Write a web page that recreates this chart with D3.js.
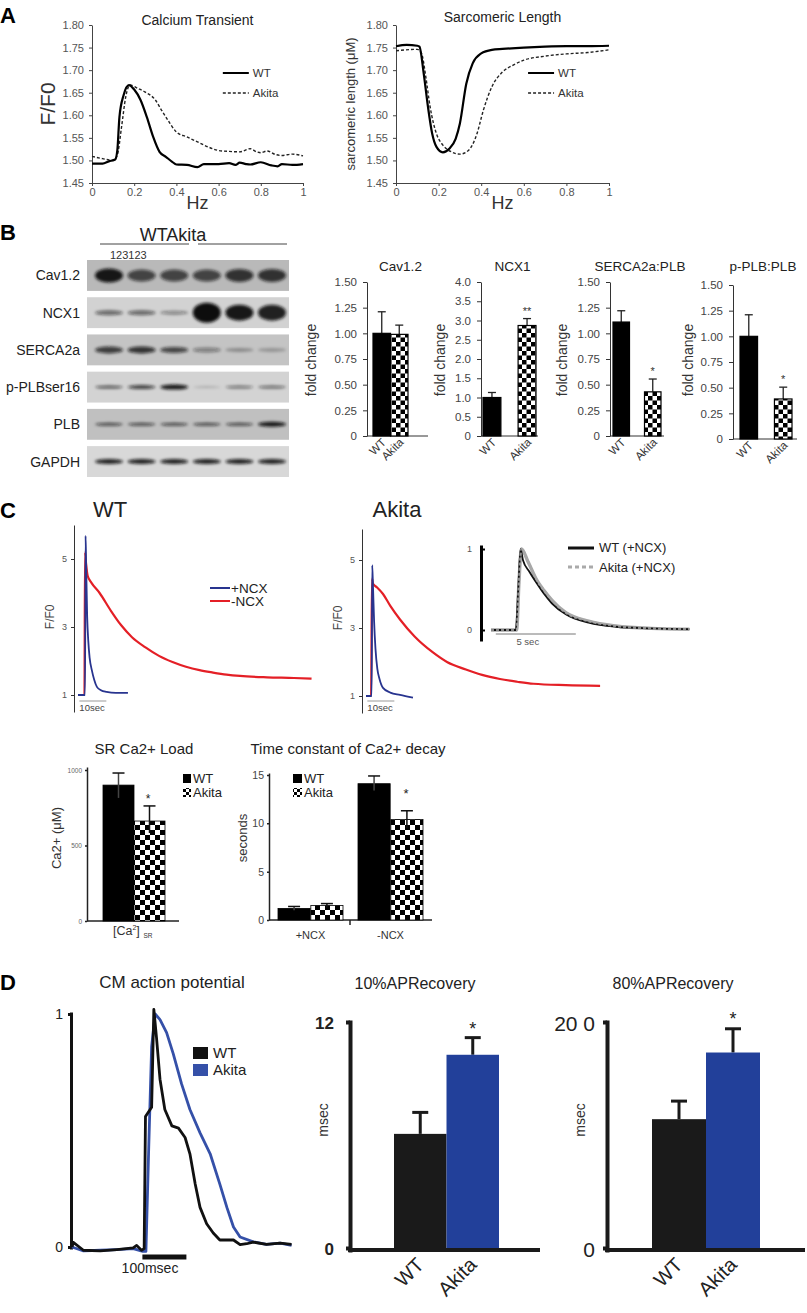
<!DOCTYPE html>
<html><head><meta charset="utf-8">
<script src="https://cdn.jsdelivr.net/npm/d3@7"></script>
<style>
body{margin:0;background:#fff}
svg text{font-family:"Liberation Sans",Arial,Helvetica,sans-serif}
</style>
</head><body>
<svg id="fig" width="807" height="1313"></svg>
<script>
// ================= DATA =================
// Panel A
const hzTicks = [0, 0.2, 0.4, 0.6, 0.8, 1];
const ratioTicks = [1.45, 1.50, 1.55, 1.60, 1.65, 1.70, 1.75, 1.80];
const caWT = [[0,1.493],[0.05,1.493],[0.08,1.498],[0.11,1.502],[0.12,1.522],[0.13,1.596],[0.15,1.645],[0.175,1.667],[0.2,1.657],[0.23,1.634],[0.26,1.596],[0.29,1.552],[0.32,1.519],[0.35,1.508],[0.38,1.497],[0.4,1.491],[0.45,1.490],[0.5,1.485],[0.53,1.492],[0.6,1.492],[0.65,1.494],[0.68,1.490],[0.7,1.495],[0.73,1.492],[0.75,1.491],[0.8,1.496],[0.85,1.489],[0.88,1.487],[0.9,1.492],[0.95,1.490],[1.0,1.492]];
const caAkita = [[0,1.509],[0.05,1.504],[0.1,1.500],[0.12,1.512],[0.14,1.574],[0.16,1.641],[0.18,1.667],[0.22,1.659],[0.25,1.652],[0.3,1.634],[0.33,1.611],[0.36,1.589],[0.4,1.563],[0.45,1.552],[0.5,1.541],[0.55,1.530],[0.6,1.522],[0.65,1.520],[0.7,1.519],[0.75,1.526],[0.78,1.519],[0.8,1.517],[0.83,1.521],[0.87,1.513],[0.9,1.511],[0.95,1.514],[1.0,1.510]];
const slWT = [[0,1.753],[0.05,1.756],[0.1,1.754],[0.11,1.752],[0.13,1.693],[0.15,1.619],[0.17,1.559],[0.19,1.530],[0.22,1.518],[0.25,1.526],[0.28,1.548],[0.3,1.582],[0.33,1.670],[0.36,1.715],[0.4,1.737],[0.45,1.745],[0.5,1.747],[0.6,1.750],[0.7,1.752],[0.8,1.753],[0.9,1.753],[1.0,1.754]];
const slAkita = [[0,1.743],[0.1,1.746],[0.12,1.737],[0.14,1.685],[0.16,1.619],[0.19,1.559],[0.22,1.534],[0.26,1.519],[0.3,1.514],[0.34,1.522],[0.38,1.559],[0.41,1.611],[0.45,1.663],[0.5,1.696],[0.55,1.711],[0.6,1.722],[0.7,1.731],[0.8,1.736],[0.9,1.739],[1.0,1.745]];

// Panel B – western blot
const blotRows = ["Cav1.2", "NCX1", "SERCA2a", "p-PLBser16", "PLB", "GAPDH"];
const blotLanes = [1, 2, 3, 4, 5, 6];
const blotIntensity = [
  [0.95, 0.70, 0.70, 0.70, 0.80, 0.80],
  [0.55, 0.55, 0.40, 1.00, 0.95, 0.90],
  [0.75, 0.80, 0.70, 0.40, 0.30, 0.25],
  [0.65, 0.75, 0.95, 0.20, 0.50, 0.55],
  [0.70, 0.70, 0.70, 0.70, 0.70, 0.95],
  [0.90, 0.90, 0.90, 0.90, 0.90, 0.90]];
const blotThickness = [
  [14, 12, 12, 12, 13, 13],
  [5, 5, 4, 20, 16, 16],
  [7, 7, 6, 5, 4, 4],
  [3, 4, 5, 2, 3, 3],
  [3, 3, 3, 3, 3, 5],
  [5, 5, 5, 5, 5, 5]];
const blotBackground = ["#b9b9b9", "#d2d2d2", "#c4c4c4", "#d3d3d3", "#c0c0c0", "#d8d8d8"];

// Panel B – quantification
const groups = ["WT", "Akita"];
const bTitles = ["Cav1.2", "NCX1", "SERCA2a:PLB", "p-PLB:PLB"];
const bWT = [1.00, 1.00, 1.11, 1.00];
const bWTerr = [0.21, 0.13, 0.11, 0.21];
const bAkita = [0.99, 2.87, 0.43, 0.39];
const bAkitaErr = [0.09, 0.18, 0.125, 0.115];
const bYMax = [1.5, 4.0, 1.5, 1.5];
const bSig = ["", "**", "*", "*"];
const ticks150 = [0, 0.25, 0.5, 0.75, 1.0, 1.25, 1.5];
const ticks40 = [0, 0.5, 1.0, 1.5, 2.0, 2.5, 3.0, 3.5, 4.0];

// Panel C – traces (time s, F/F0)
const wtPlusNCX = [[0,1.0],[2.6,1.0],[2.8,5.68],[3.0,4.9],[3.4,3.3],[3.8,2.6],[4.3,2.1],[5.1,1.74],[6,1.45],[7,1.24],[8.5,1.14],[10.6,1.09],[14,1.06],[18.5,1.06]];
const wtMinusNCX = [[0,1.0],[2.4,1.0],[2.6,5.2],[3.0,4.85],[3.6,4.5],[5,4.3],[8,4.0],[12,3.5],[16,3.05],[20,2.7],[25,2.4],[30,2.15],[35,1.97],[40,1.83],[45,1.73],[50,1.66],[55,1.6],[60,1.56],[70,1.52],[80,1.5],[86.5,1.48]];
const akPlusNCX = [[0,1.0],[2.1,1.0],[2.3,4.85],[2.6,4.2],[3.0,3.2],[3.5,2.4],[4.2,1.8],[5,1.5],[6.3,1.24],[9,1.1],[12.6,1.03],[17.4,0.95]];
const akMinusNCX = [[0,1.0],[1.9,1.0],[2.2,4.45],[2.6,4.3],[4,4.2],[6.3,4.0],[9,3.65],[12.6,3.25],[18,2.75],[24.8,2.28],[30,2.0],[37,1.78],[43,1.62],[49.6,1.5],[56,1.42],[62,1.36],[74,1.32],[86.7,1.3]];
const fTicks = [1, 3, 5];
// inset (normalised)
const insetWT = [[0,0],[1.55,0],[1.7,0.5],[1.85,1.0],[2.0,0.86],[2.4,0.72],[2.85,0.58],[3.3,0.45],[3.8,0.33],[4.7,0.19],[6.1,0.09],[7.8,0.04],[10,0.02],[12.4,0.01]];
const insetAkita = [[0,0],[1.6,0],[1.75,0.6],[1.9,1.0],[2.3,0.85],[2.85,0.62],[3.3,0.49],[3.8,0.37],[4.7,0.21],[6.1,0.11],[7.8,0.05],[10,0.02],[12.4,0.01]];

// Panel C – bars
const srLoad = [900, 662];
const srLoadHi = [980, 762];
const srLoadLo = [815, 583];
const srTicks = [0, 500, 1000];
const ncxConds = ["+NCX", "-NCX"];
const tauWT = [1.2, 14.1];
const tauWTHi = [1.4, 14.9];
const tauWTLo = [1.0, 13.4];
const tauAkita = [1.5, 10.4];
const tauAkitaHi = [1.7, 11.3];
const tauAkitaLo = [1.3, 9.5];
const tauTicks = [0, 5, 10, 15];

// Panel D – action potential (ms, normalised)
const apWT = [[0,0.0],[3,0.02],[26,-0.014],[64,-0.017],[102,-0.011],[139,-0.004],[147,0.007],[158,-0.014],[164,-0.007],[167,0.56],[181,0.60],[186,1.02],[192,0.90],[200,0.72],[211,0.59],[227,0.52],[242,0.51],[257,0.47],[268,0.40],[280,0.27],[291,0.17],[306,0.10],[321,0.06],[336,0.03],[352,0.03],[367,0.03],[382,0.01],[397,0.014],[412,0.021],[442,0.011],[473,0.017],[499,0.011]];
const apAkita = [[0,0.0],[26,-0.017],[64,-0.014],[102,-0.011],[139,-0.007],[161,-0.019],[168,-0.019],[174,0.40],[181,0.86],[189,1.0],[200,0.976],[215,0.92],[230,0.83],[249,0.70],[268,0.59],[291,0.49],[314,0.40],[336,0.27],[352,0.17],[367,0.086],[382,0.043],[412,0.022],[442,0.011],[473,0.017],[499,0.007]];
const ap10 = [6.06, 10.26];
const ap10err = [1.14, 0.91];
const ap80 = [114, 173];
const ap80err = [16, 21];

// ================= DRAWING =================
const svg = d3.select("#fig");
const defs = svg.append("defs");
function checker(id, c) {
  const p = defs.append("pattern").attr("id", id).attr("patternUnits", "userSpaceOnUse")
    .attr("width", 2 * c).attr("height", 2 * c);
  p.append("rect").attr("width", 2 * c).attr("height", 2 * c).attr("fill", "#fff");
  p.append("rect").attr("width", c).attr("height", c).attr("fill", "#000");
  p.append("rect").attr("x", c).attr("y", c).attr("width", c).attr("height", c).attr("fill", "#000");
}
checker("chkB", 4.5);
checker("chkC", 5);
checker("chkL", 3);
defs.append("filter").attr("id", "blur").attr("x", "-50%").attr("y", "-100%").attr("width", "200%").attr("height", "300%")
  .append("feGaussianBlur").attr("stdDeviation", 1.6);

function label(x, y, s, size, o = {}) {
  const t = svg.append("text").attr("x", x).attr("y", y).attr("font-size", size)
    .attr("text-anchor", o.anchor || "middle").attr("fill", o.fill || "#1a1a1a")
    .attr("font-weight", o.weight || "normal").text(s);
  if (o.rotate !== undefined) t.attr("transform", `rotate(${o.rotate},${x},${y})`);
  return t;
}
function styleAxis(g, o = {}) {
  g.selectAll("path,line").attr("stroke", o.stroke || "#333").attr("stroke-width", o.sw || 1);
  g.selectAll("text").attr("font-size", o.fs || 11).attr("fill", o.fill || "#444")
    .attr("font-weight", o.weight || "normal")
    .attr("font-family", '"Liberation Sans",Arial,sans-serif');
}
const fmtTick = d => (d === 0 || d === 1) ? String(d) : d.toFixed(1);
const fmtInt = d3.format("d");

// panel letters
label(0, 23, "A", 22, {anchor: "start", weight: "bold", fill: "#000"});
label(0, 240, "B", 22, {anchor: "start", weight: "bold", fill: "#000"});
label(0, 518, "C", 22, {anchor: "start", weight: "bold", fill: "#000"});
label(0, 990, "D", 22, {anchor: "start", weight: "bold", fill: "#000"});

// ---------- Panel A ----------
function panelA(x0, x1, title, titleY, ylab, ylabSize, ylabX, wt, ak) {
  const x = d3.scaleLinear([0, 1], [x0, x1]);
  const y = d3.scaleLinear([1.45, 1.80], [183, 25]);
  const gy = svg.append("g").attr("transform", `translate(${x0},0)`)
    .call(d3.axisLeft(y).tickValues(ratioTicks).tickFormat(d3.format(".2f")).tickSize(3).tickSizeOuter(0).tickPadding(5));
  styleAxis(gy, {fs: 11, fill: "#555", stroke: "#444"});
  const gx = svg.append("g").attr("transform", `translate(0,183)`)
    .call(d3.axisBottom(x).tickValues(hzTicks).tickFormat(fmtTick).tickSize(3).tickSizeOuter(0).tickPadding(2));
  styleAxis(gx, {fs: 11, fill: "#555", stroke: "#444"});
  const line = d3.line().x(d => x(d[0])).y(d => y(d[1])).curve(d3.curveMonotoneX);
  svg.append("path").datum(ak).attr("d", line).attr("fill", "none").attr("stroke", "#222")
    .attr("stroke-width", 1.4).attr("stroke-dasharray", "3,2");
  svg.append("path").datum(wt).attr("d", line).attr("fill", "none").attr("stroke", "#000").attr("stroke-width", 2.2);
  label((x0 + x1) / 2, titleY, title, 14, {fill: "#222"});
  label(ylabX, 104, ylab, ylabSize, {rotate: -90, fill: "#333"});
  label((x0 + x1) / 2, 209, "Hz", 18, {fill: "#333"});
  const lx = x(0.62);
  svg.append("line").attr("x1", lx).attr("x2", lx + 26).attr("y1", 73).attr("y2", 73).attr("stroke", "#000").attr("stroke-width", 2);
  svg.append("line").attr("x1", lx).attr("x2", lx + 26).attr("y1", 93).attr("y2", 93).attr("stroke", "#222").attr("stroke-width", 1.4).attr("stroke-dasharray", "3,2");
  label(lx + 30, 77, "WT", 11.5, {anchor: "start", fill: "#333"});
  label(lx + 30, 97, "Akita", 11.5, {anchor: "start", fill: "#333"});
}
panelA(92, 303, "Calcium Transient", 25, "F/F0", 21, 55, caWT, caAkita);
panelA(396, 609, "Sarcomeric Length", 22, "sarcomeric length (\u03bcM)", 13, 355, slWT, slAkita);

// ---------- Panel B blot ----------
label(173, 241, "WTAkita", 18, {fill: "#222"});
svg.append("line").attr("x1", 100).attr("x2", 189).attr("y1", 244).attr("y2", 244).attr("stroke", "#444");
svg.append("line").attr("x1", 198).attr("x2", 287).attr("y1", 244).attr("y2", 244).attr("stroke", "#444");
label(110, 259, "123123", 11, {anchor: "start", fill: "#333"});
const rowY = d3.scaleBand().domain(blotRows).range([260, 477]).paddingInner(0.17).paddingOuter(0);
const laneX = d3.scaleBand().domain(blotLanes).range([94, 287]).paddingInner(0.08);
blotRows.forEach((r, i) => {
  const y0 = rowY(r), h = rowY.bandwidth();
  svg.append("rect").attr("x", 87).attr("y", y0).attr("width", 202).attr("height", h)
    .attr("fill", blotBackground[i]);
  const g = svg.append("g").attr("filter", "url(#blur)");
  blotLanes.forEach((l, j) => {
    g.append("ellipse").attr("cx", laneX(l) + laneX.bandwidth() / 2).attr("cy", y0 + h / 2)
      .attr("rx", laneX.bandwidth() / 2 - 1).attr("ry", blotThickness[i][j] / 2)
      .attr("fill", "#111").attr("opacity", blotIntensity[i][j]);
  });
  label(80, y0 + h / 2 + 5, r, 14, {anchor: "end", fill: "#222"});
});

// ---------- Panel B bar charts ----------
const bAxisX = [367, 481, 610, 733];
const bAxisEnd = [428, 538, 664, 797];
const bBandL = [373, 483, 613, 740];
const bBandR = [408, 536, 661, 792];
const bPad = [0, 0.49, 0.476, 0.49];
const bBottom = [436, 436, 436, 439];
const bYLabX = [316, 445, 567, 693];
bTitles.forEach((t, i) => {
  const y = d3.scaleLinear([0, bYMax[i]], [bBottom[i], bBottom[i] - 154]);
  const x = d3.scaleBand().domain(groups).range([bBandL[i], bBandR[i]]).paddingInner(bPad[i]);
  const ticks = bYMax[i] === 4 ? ticks40 : ticks150;
  const fmt = bYMax[i] === 4 ? (d => d === 0 ? "0" : d.toFixed(1)) : (d => d === 0 ? "0" : d.toFixed(2));
  const gy = svg.append("g").attr("transform", `translate(${bAxisX[i]},0)`)
    .call(d3.axisLeft(y).tickValues(ticks).tickFormat(fmt).tickSize(4).tickSizeOuter(0).tickPadding(6));
  styleAxis(gy, {fs: 11.5, fill: "#444", stroke: "#333"});
  svg.append("line").attr("x1", bAxisX[i]).attr("x2", bAxisEnd[i]).attr("y1", y(0)).attr("y2", y(0)).attr("stroke", "#333");
  const vals = [bWT[i], bAkita[i]], errs = [bWTerr[i], bAkitaErr[i]];
  groups.forEach((gname, k) => {
    const cx = x(gname) + x.bandwidth() / 2;
    svg.append("line").attr("x1", cx).attr("x2", cx).attr("y1", y(vals[k])).attr("y2", y(vals[k] + errs[k])).attr("stroke", "#222").attr("stroke-width", 1.3);
    svg.append("line").attr("x1", cx - 4).attr("x2", cx + 4).attr("y1", y(vals[k] + errs[k])).attr("y2", y(vals[k] + errs[k])).attr("stroke", "#222").attr("stroke-width", 1.3);
    svg.append("rect").attr("x", x(gname)).attr("y", y(vals[k])).attr("width", x.bandwidth()).attr("height", y(0) - y(vals[k]))
      .attr("fill", k === 0 ? "#000" : "url(#chkB)").attr("stroke", "#000").attr("stroke-width", 1.2);
    label(cx + 5, y(0) + 7, gname, 11.5, {anchor: "end", rotate: -45, fill: "#333"});
  });
  if (bSig[i]) {
    const cx = x("Akita") + x.bandwidth() / 2;
    label(cx, y(bAkita[i] + bAkitaErr[i]) - 4, bSig[i], 11, {fill: "#333"});
  }
  label((bAxisX[i] + bAxisEnd[i]) / 2 + (i === 3 ? -2 : 3), 271, t, 13.5, {fill: "#222"});
  label(bYLabX[i], 360, "fold change", 14, {rotate: -90, fill: "#333"});
});

// ---------- Panel C traces ----------
const red = "#e41f26", blue = "#28348f";
function tracePanel(axX, t0, yBottom, yTop, plus, minus, titleX, title) {
  const y = d3.scaleLinear([0.5, 0.5 + (yBottom - yTop) / 34], [yBottom, yTop]);
  const x = d3.scaleLinear([0, 10], [t0, t0 + 27]);
  const g = svg.append("g").attr("transform", `translate(${axX},0)`)
    .call(d3.axisLeft(y).tickValues(fTicks).tickFormat(fmtInt).tickSize(3).tickSizeOuter(0).tickPadding(4));
  styleAxis(g, {fs: 9, fill: "#555", stroke: "#333"});
  const line = d3.line().x(d => x(d[0])).y(d => y(d[1])).curve(d3.curveMonotoneX);
  svg.append("path").datum(minus).attr("d", line).attr("fill", "none").attr("stroke", red).attr("stroke-width", 2.2);
  svg.append("path").datum(plus).attr("d", line).attr("fill", "none").attr("stroke", blue).attr("stroke-width", 1.8);
  svg.append("line").attr("x1", x(0.5)).attr("x2", x(10.5)).attr("y1", 701).attr("y2", 701).attr("stroke", "#999");
  label(x(0.5), 711, "10sec", 9.5, {anchor: "start", fill: "#444"});
  label(axX - 20, y(3.3), "F/F0", 12, {rotate: -90, fill: "#444"});
  label(titleX, 517, title, 22, {fill: "#222"});
}
tracePanel(74, 78, 712, 525, wtPlusNCX, wtMinusNCX, 110, "WT");
tracePanel(362, 366, 713, 529, akPlusNCX, akMinusNCX, 397, "Akita");
svg.append("line").attr("x1", 210).attr("x2", 230).attr("y1", 588).attr("y2", 588).attr("stroke", blue).attr("stroke-width", 2);
svg.append("line").attr("x1", 210).attr("x2", 230).attr("y1", 601).attr("y2", 601).attr("stroke", red).attr("stroke-width", 2);
label(231, 593, "+NCX", 13.5, {anchor: "start", fill: "#222"});
label(231, 606, "-NCX", 13.5, {anchor: "start", fill: "#222"});

// inset
{
  const x = d3.scaleLinear([0, 5], [491, 571]);
  const y = d3.scaleLinear([0, 1], [630, 549]);
  const yAx = d3.scaleLinear([y.invert(641), y.invert(545)], [641, 545]);
  const g = svg.append("g").attr("transform", "translate(481,0)")
    .call(d3.axisLeft(yAx).tickValues([0, 1]).tickFormat(fmtInt).tickSize(-4).tickSizeOuter(0).tickPadding(9));
  styleAxis(g, {fs: 9, fill: "#555", stroke: "#000", sw: 3});
  g.selectAll(".tick line").attr("stroke-width", 2);
  const line = d3.line().x(d => x(d[0])).y(d => y(d[1])).curve(d3.curveMonotoneX);
  svg.append("path").datum(insetAkita).attr("d", line).attr("fill", "none").attr("stroke", "#a8a8a8").attr("stroke-width", 3.4);
  svg.append("path").datum(insetWT).attr("d", line).attr("fill", "none").attr("stroke", "#111").attr("stroke-width", 1.8);
  svg.append("path").datum(insetAkita).attr("d", line).attr("fill", "none").attr("stroke", "#a8a8a8").attr("stroke-width", 2.4).attr("stroke-dasharray", "3,2").attr("opacity", 0.8);
  svg.append("line").attr("x1", x(0.3)).attr("x2", x(5.3)).attr("y1", 634).attr("y2", 634).attr("stroke", "#777");
  label(x(2.3), 645, "5 sec", 9.5, {fill: "#555"});
  svg.append("line").attr("x1", 568).attr("x2", 594).attr("y1", 548).attr("y2", 548).attr("stroke", "#111").attr("stroke-width", 3);
  svg.append("line").attr("x1", 568).attr("x2", 594).attr("y1", 567).attr("y2", 567).attr("stroke", "#aaa").attr("stroke-width", 3).attr("stroke-dasharray", "4,3");
  label(599, 552, "WT (+NCX)", 13, {anchor: "start", fill: "#222"});
  label(599, 572, "Akita (+NCX)", 13, {anchor: "start", fill: "#222"});
}

// ---------- Panel C bars ----------
{ // SR load
  const y = d3.scaleLinear([0, 1000], [921, 770]);
  const yAx = d3.scaleLinear([0, y.invert(767)], [921, 767]);
  const x = d3.scaleBand().domain(groups).range([103, 165]).paddingInner(0);
  const g = svg.append("g").attr("transform", "translate(87,0)")
    .call(d3.axisLeft(yAx).tickValues(srTicks).tickFormat(fmtInt).tickSize(2).tickSizeOuter(0).tickPadding(3));
  styleAxis(g, {fs: 6.5, fill: "#666", stroke: "#222", sw: 1.5});
  svg.append("line").attr("x1", 87).attr("x2", 179).attr("y1", 921).attr("y2", 921).attr("stroke", "#222").attr("stroke-width", 1.5);
  groups.forEach((gname, k) => {
    const cx = x(gname) + x.bandwidth() / 2;
    svg.append("rect").attr("x", x(gname)).attr("y", y(srLoad[k])).attr("width", x.bandwidth()).attr("height", y(0) - y(srLoad[k]))
      .attr("fill", k === 0 ? "#000" : "url(#chkC)").attr("stroke", "#000").attr("stroke-width", 0.8);
    svg.append("line").attr("x1", cx).attr("x2", cx).attr("y1", y(srLoadLo[k])).attr("y2", y(srLoadHi[k])).attr("stroke", k === 0 ? "#444" : "#111").attr("stroke-width", 1.5);
    svg.append("line").attr("x1", cx - 6).attr("x2", cx + 6).attr("y1", y(srLoadHi[k])).attr("y2", y(srLoadHi[k])).attr("stroke", "#111").attr("stroke-width", 1.5);
  });
  label(148, y(srLoadHi[1]) - 3, "*", 12, {fill: "#222"});
  label(144, 754, "SR Ca2+ Load", 15, {fill: "#222"});
  label(61, 838, "Ca2+ (\u03bcM)", 13, {rotate: -90, fill: "#333"});
  const xl = svg.append("text").attr("x", 113).attr("y", 935).attr("font-size", 12.5).attr("fill", "#333");
  xl.append("tspan").text("[Ca");
  xl.append("tspan").attr("dy", -5).attr("font-size", 7).text("2");
  xl.append("tspan").attr("dy", 5).text("]");
  label(148, 938, "SR", 6.5, {fill: "#333"});
  svg.append("rect").attr("x", 183).attr("y", 774).attr("width", 8).attr("height", 9).attr("fill", "#000");
  svg.append("rect").attr("x", 183).attr("y", 788).attr("width", 8).attr("height", 9).attr("fill", "url(#chkL)");
  label(193, 783, "WT", 13, {anchor: "start", fill: "#222"});
  label(193, 797, "Akita", 13, {anchor: "start", fill: "#222"});
}
{ // time constant
  const y = d3.scaleLinear([0, 15], [920, 775]);
  const yAx = d3.scaleLinear([0, y.invert(773)], [920, 773]);
  const xo = d3.scaleBand().domain(ncxConds).range([278, 423]).paddingInner(0.1875);
  const xi = d3.scaleBand().domain(groups).range([0, xo.bandwidth()]).paddingInner(0.02);
  const g = svg.append("g").attr("transform", "translate(269,0)")
    .call(d3.axisLeft(yAx).tickValues(tauTicks).tickFormat(fmtInt).tickSize(2).tickSizeOuter(0).tickPadding(3));
  styleAxis(g, {fs: 10.5, fill: "#444", stroke: "#222", sw: 1.5});
  svg.append("line").attr("x1", 269).attr("x2", 432).attr("y1", 920).attr("y2", 920).attr("stroke", "#222").attr("stroke-width", 1.5);
  svg.append("line").attr("x1", 350).attr("x2", 350).attr("y1", 920).attr("y2", 925).attr("stroke", "#222").attr("stroke-width", 1.5);
  ncxConds.forEach((c, ci) => {
    const vals = [tauWT[ci], tauAkita[ci]], hi = [tauWTHi[ci], tauAkitaHi[ci]], lo = [tauWTLo[ci], tauAkitaLo[ci]];
    groups.forEach((gname, k) => {
      const bx = xo(c) + xi(gname), cx = bx + xi.bandwidth() / 2;
      svg.append("rect").attr("x", bx).attr("y", y(vals[k])).attr("width", xi.bandwidth()).attr("height", y(0) - y(vals[k]))
        .attr("fill", k === 0 ? "#000" : "url(#chkC)").attr("stroke", "#000").attr("stroke-width", 0.8);
      svg.append("line").attr("x1", cx).attr("x2", cx).attr("y1", y(lo[k])).attr("y2", y(hi[k])).attr("stroke", k === 0 ? "#444" : "#111").attr("stroke-width", 1.5);
      svg.append("line").attr("x1", cx - 6).attr("x2", cx + 6).attr("y1", y(hi[k])).attr("y2", y(hi[k])).attr("stroke", "#111").attr("stroke-width", 1.5);
    });
    label(xo(c) + xo.bandwidth() / 2, 939, c, 11, {fill: "#333"});
  });
  label(406, 798, "*", 13, {fill: "#222"});
  label(348, 754, "Time constant of Ca2+ decay", 15, {fill: "#222"});
  label(247, 838, "seconds", 13, {rotate: -90, fill: "#333"});
  svg.append("rect").attr("x", 293).attr("y", 774).attr("width", 9).attr("height", 9).attr("fill", "#000");
  svg.append("rect").attr("x", 293).attr("y", 788).attr("width", 9).attr("height", 9).attr("fill", "url(#chkL)");
  label(304, 783, "WT", 13, {anchor: "start", fill: "#222"});
  label(304, 797, "Akita", 13, {anchor: "start", fill: "#222"});
}

// ---------- Panel D ----------
const apBlue = "#3550a8", barBlue = "#22409a";
{
  const x = d3.scaleLinear([0, 100], [72, 116]);
  const y = d3.scaleLinear([0, 1], [1247, 1014]);
  const yAx = d3.scaleLinear([y.invert(1249), y.invert(1012)], [1249, 1012]);
  const g = svg.append("g").attr("transform", "translate(71,0)")
    .call(d3.axisLeft(yAx).tickValues([0, 1]).tickFormat(fmtInt).tickSize(3).tickSizeOuter(0).tickPadding(5));
  styleAxis(g, {fs: 14, fill: "#222", stroke: "#111", sw: 3});
  const line = d3.line().x(d => x(d[0])).y(d => y(d[1])).curve(d3.curveLinear);
  svg.append("path").datum(apAkita).attr("d", line).attr("fill", "none").attr("stroke", apBlue).attr("stroke-width", 2.8).attr("stroke-linejoin", "round");
  svg.append("path").datum(apWT).attr("d", line).attr("fill", "none").attr("stroke", "#111").attr("stroke-width", 2.8).attr("stroke-linejoin", "round");
  svg.append("line").attr("x1", x(160)).attr("x2", x(260)).attr("y1", 1257).attr("y2", 1257).attr("stroke", "#111").attr("stroke-width", 5);
  label(150, 1273, "100msec", 14, {fill: "#222"});
  label(172, 988, "CM action potential", 17, {fill: "#222"});
  svg.append("rect").attr("x", 193).attr("y", 1047).attr("width", 15).attr("height", 12).attr("fill", "#111");
  svg.append("rect").attr("x", 193).attr("y", 1064).attr("width", 15).attr("height", 12).attr("fill", apBlue);
  label(213, 1058, "WT", 15, {anchor: "start", fill: "#222"});
  label(213, 1075, "Akita", 15, {anchor: "start", fill: "#222"});
}
function apBars(axX, axEnd, bandL, bandR, yMax, vals, errs, title, titleX, tickFmt, tickOpts, starY) {
  const y = d3.scaleLinear([0, yMax], [1248, 1022]);
  const yAx = d3.scaleLinear([y.invert(1252), y.invert(1020)], [1252, 1020]);
  const x = d3.scaleBand().domain(groups).range([bandL, bandR]).paddingInner(0);
  const g = svg.append("g").attr("transform", `translate(${axX},0)`)
    .call(d3.axisLeft(yAx).tickValues([0, yMax]).tickFormat(tickFmt).tickSize(4).tickSizeOuter(0).tickPadding(tickOpts.pad));
  styleAxis(g, {fs: tickOpts.fs, fill: "#222", stroke: "#1a1a1a", sw: 4, weight: tickOpts.weight});
  g.selectAll(".tick text").attr("dy", "0.4em");
  svg.append("line").attr("x1", axX - 2).attr("x2", axEnd).attr("y1", 1250).attr("y2", 1250).attr("stroke", "#1a1a1a").attr("stroke-width", 4);
  groups.forEach((gname, k) => {
    const cx = x(gname) + x.bandwidth() / 2;
    svg.append("line").attr("x1", cx).attr("x2", cx).attr("y1", y(vals[k])).attr("y2", y(vals[k] + errs[k])).attr("stroke", "#1a1a1a").attr("stroke-width", 3);
    svg.append("line").attr("x1", cx - 8).attr("x2", cx + 8).attr("y1", y(vals[k] + errs[k])).attr("y2", y(vals[k] + errs[k])).attr("stroke", "#1a1a1a").attr("stroke-width", 3);
    svg.append("rect").attr("x", x(gname)).attr("y", y(vals[k])).attr("width", x.bandwidth()).attr("height", y(0) - y(vals[k]))
      .attr("fill", k === 0 ? "#1a1a1a" : barBlue);
    label(cx + 5, 1266, gname, 20, {anchor: "end", rotate: -45, fill: "#222"});
  });
  const cxA = x("Akita") + x.bandwidth() / 2;
  label(cxA, starY, "*", 18, {fill: "#222"});
  label(titleX, 989, title, 16, {fill: "#222"});
  label(axX - 22, 1120, "msec", 14, {rotate: -90, fill: "#333"});
}
apBars(350, 540, 394, 499, 12, ap10, ap10err, "10%APRecovery", 415, d => String(d), {fs: 17, weight: "bold", pad: 12}, 1035);
apBars(607, 805, 652, 760, 200, ap80, ap80err, "80%APRecovery", 673, d => d === 0 ? "0" : "20\u00a00", {fs: 21, weight: "normal", pad: 8}, 1025);
</script>
</body></html>
